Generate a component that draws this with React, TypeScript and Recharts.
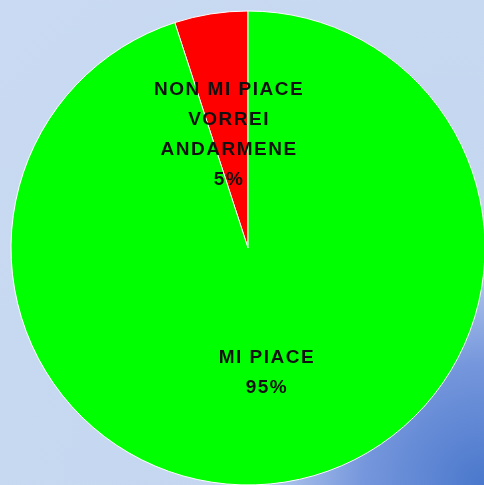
import React from "react";
import { PieChart, Pie, Cell } from "recharts";

const categories = ["NON MI PIACE\nVORREI\nANDARMENE", "MI PIACE"];
const values = [5, 95];
const colors = ["#ff0000", "#00ff00"];

const data = categories.map((name, i) => ({ name, value: values[i] }));

const RAD = Math.PI / 180;

const renderLabel = (props: any) => {
  const { cx, cy, midAngle, outerRadius, percent, name } = props;
  const r = outerRadius * 0.51;
  const x = cx + r * Math.cos(-midAngle * RAD);
  const y = cy + r * Math.sin(-midAngle * RAD) + 4;
  const lines = [...String(name).split("\n"), `${Math.round(percent * 100)}%`];
  const lh = 30;
  const startY = y - ((lines.length - 1) * lh) / 2;
  return (
    <text
      x={x}
      y={startY}
      textAnchor="middle"
      dominantBaseline="central"
      fill="#111"
      fontFamily="'Liberation Sans', Arial, sans-serif"
      fontWeight="bold"
      fontSize={19}
      letterSpacing={1.5}
    >
      {lines.map((l, i) => (
        <tspan key={i} x={x} y={startY + i * lh} dominantBaseline="central">
          {l}
        </tspan>
      ))}
    </text>
  );
};

export default function App() {
  return (
    <div
      style={{
        position: "fixed",
        left: 0,
        top: 0,
        width: 484,
        height: 485,
        background:
          "radial-gradient(circle at 100% 100%, #4a78cc 0px, #7596dc 120px, #a9c0ea 200px, #c5d7f0 280px, #c9daf2 100%)",
      }}
    >
      <PieChart width={484} height={485} margin={{ top: 0, right: 0, bottom: 0, left: 0 }}>
        <Pie
          data={data}
          dataKey="value"
          nameKey="name"
          cx={248}
          cy={248}
          outerRadius={237}
          startAngle={90}
          endAngle={450}
          stroke="#ffffff"
          strokeWidth={1}
          label={renderLabel}
          labelLine={false}
          isAnimationActive={false}
        >
          {data.map((d, i) => (
            <Cell key={d.name} fill={colors[i]} />
          ))}
        </Pie>
      </PieChart>
    </div>
  );
}
